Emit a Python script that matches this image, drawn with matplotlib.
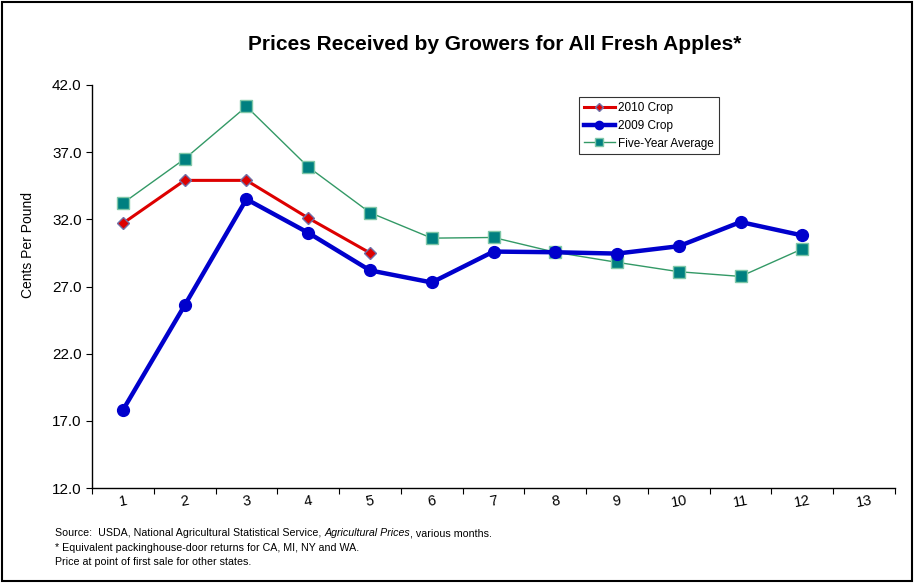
import matplotlib.pyplot as plt
from matplotlib.patches import Rectangle

plt.rcParams["font.family"] = ["Liberation Sans", "DejaVu Sans"]

# ---- data ----
months = list(range(1, 14))
crop_2010 = [31.7, 34.9, 34.9, 32.1, 29.5]
crop_2009 = [17.8, 25.6, 33.5, 31.0, 28.2, 27.3, 29.6, 29.55, 29.45, 30.0, 31.8, 30.8]
five_year = [33.2, 36.5, 40.4, 35.9, 32.5, 30.6, 30.65, 29.55, 28.8, 28.1, 27.75, 29.8]
y_ticks = [12.0, 17.0, 22.0, 27.0, 32.0, 37.0, 42.0]

fig = plt.figure(figsize=(9.16, 5.83), dpi=100)
ax = fig.add_axes([92 / 916, 1 - 488 / 583, (895 - 92) / 916, (488 - 85) / 583])

ax.plot(months[:len(five_year)], five_year, color="#339966", lw=1.0,
        marker="s", ms=8.5, mfc="#008080", mec="#7fc7a8", mew=1.0,
        label="Five-Year Average", zorder=2)
ax.plot(months[:len(crop_2009)], crop_2009, color="#0000cc", lw=3.2,
        marker="o", ms=8.5, mfc="#0000cc", mec="#0000cc",
        label="2009 Crop", zorder=3)
ax.plot(months[:len(crop_2010)], crop_2010, color="#dd0000", lw=2.2,
        marker="D", ms=6.5, mfc="#dd0000", mec="#7070a8", mew=1.0,
        label="2010 Crop", zorder=4)

ax.set_xlim(0.5, 13.5)
ax.set_ylim(12, 42)
ax.set_yticks(y_ticks)
ax.set_yticklabels([f"{v:.1f}" for v in y_ticks])

# category style x axis: ticks on boundaries, labels centered
ax.set_xticks([m + 0.5 for m in [0] + months])
ax.set_xticklabels([])
ax.set_xticks(months, minor=True)
ax.set_xticklabels([str(m) for m in months], minor=True, rotation=10)
ax.tick_params(axis="x", which="minor", length=0, pad=4, labelsize=10.5)
ax.tick_params(axis="x", which="major", length=4, direction="out")
ax.tick_params(axis="y", length=4, direction="out", labelsize=11)

for s in ["top", "right"]:
    ax.spines[s].set_visible(False)
for s in ["left", "bottom"]:
    ax.spines[s].set_linewidth(1.0)

ax.set_ylabel("Cents Per Pound", fontsize=10)
ax.yaxis.set_label_coords(-0.071, 0.603)

handles, labels = ax.get_legend_handles_labels()
order = [2, 1, 0]
leg = ax.legend([handles[i] for i in order], [labels[i] for i in order],
                loc="upper left", bbox_to_anchor=(0.607, 0.97), fontsize=8.5,
                frameon=True, fancybox=False, edgecolor="black",
                handlelength=2.6, markerscale=0.7, borderpad=0.4,
                labelspacing=0.5, handletextpad=0.3, borderaxespad=0)
leg.get_frame().set_linewidth(0.8)

fig.text(495 / 916, 1 - 45 / 583, "Prices Received by Growers for All Fresh Apples*",
         ha="center", va="center", fontsize=15, fontweight="bold")

# footer notes, the middle piece of the first line is italic
fs = 7.7
fig.canvas.draw()
r = fig.canvas.get_renderer()
y0 = 1 - 536 / 583
x0 = 55
pieces = [("Source:  USDA, National Agricultural Statistical Service,", "normal"),
          ("Agricultural Prices", "italic"),
          (", various months.", "normal")]
for i, (txt, st) in enumerate(pieces):
    t = fig.text(x0 / 916, y0, txt, fontsize=fs, style=st, va="baseline")
    bb = t.get_window_extent(renderer=r)
    x0 = bb.x1
    if i == 0:
        x0 += 3
fig.text(55 / 916, 1 - 551 / 583, "* Equivalent packinghouse-door returns for CA, MI, NY and WA.",
         fontsize=fs, va="baseline")
fig.text(55 / 916, 1 - 565 / 583, "Price at point of first sale for other states.",
         fontsize=fs, va="baseline")

fig.patches.append(Rectangle((0.002, 0.003), 0.994, 0.994, transform=fig.transFigure,
                             fill=False, edgecolor="black", lw=1.5))

fig.savefig("out.png", dpi=100)
